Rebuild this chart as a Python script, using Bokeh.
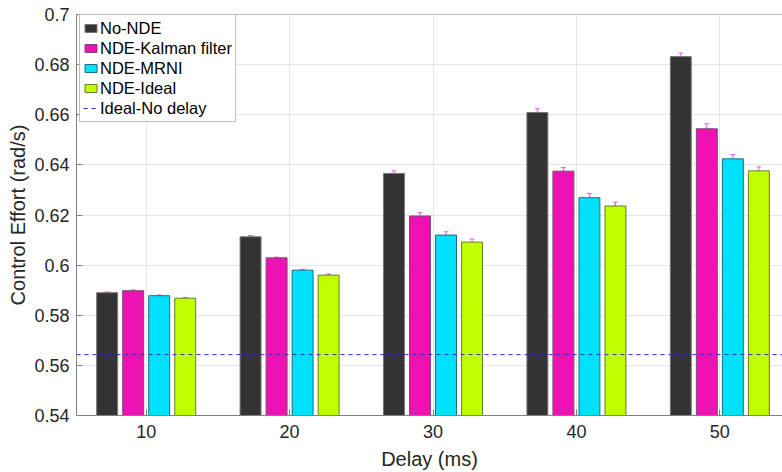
from bokeh.plotting import figure
from bokeh.models import (ColumnDataSource, FixedTicker, Whisker, TeeHead, Legend,
                          LegendItem, Span, Range1d)
from bokeh.embed import file_html
from bokeh.resources import INLINE

# ---- data ----
delays = [10, 20, 30, 40, 50]
series_names = ["No-NDE", "NDE-Kalman filter", "NDE-MRNI", "NDE-Ideal"]
no_nde = [0.5890, 0.6113, 0.6366, 0.6609, 0.6832]
nde_kalman = [0.5898, 0.6029, 0.6196, 0.6375, 0.6544]
nde_mrni = [0.5878, 0.5980, 0.6120, 0.6269, 0.6424]
nde_ideal = [0.5868, 0.5960, 0.6092, 0.6236, 0.6376]
err_no_nde = [0.0003, 0.0005, 0.0010, 0.0015, 0.0014]
err_kalman = [0.0003, 0.0003, 0.0013, 0.0014, 0.0020]
err_mrni = [0.0003, 0.0003, 0.0013, 0.0017, 0.0017]
err_ideal = [0.0003, 0.0005, 0.0012, 0.0015, 0.0016]
ideal_no_delay = 0.5643
y_ticks = [0.54, 0.56, 0.58, 0.60, 0.62, 0.64, 0.66, 0.68, 0.70]
y_tick_labels = ["0.54", "0.56", "0.58", "0.6", "0.62", "0.64", "0.66", "0.68", "0.7"]
x_tick_labels = ["10", "20", "30", "40", "50"]

# ---- style ----
FONT = "Liberation Sans"
TXT = "#262626"
AX = "#808080"
fills = ["#333333", "#EE12B5", "#00E1FF", "#C0FF00"]
edges = ["#777777", "#7a4a6c", "#1a6f80", "#6b7a2a"]
offsets = [-2.7225, -0.9075, 0.9075, 2.7225]
bar_w = 1.46
X0, X1 = 5.14, 54.37
Y0, Y1 = y_ticks[0], y_ticks[-1]

p = figure(width=782, height=472, output_backend="svg", toolbar_location=None,
           x_range=Range1d(X0, X1), y_range=Range1d(Y0, Y1),
           min_border_left=76, min_border_right=0, min_border_top=14, min_border_bottom=57)
p.outline_line_color = None
p.background_fill_color = "white"
p.border_fill_color = "white"

vals = [no_nde, nde_kalman, nde_mrni, nde_ideal]
errs = [err_no_nde, err_kalman, err_mrni, err_ideal]
items = []
for i, name in enumerate(series_names):
    xs = [d + offsets[i] for d in delays]
    src = ColumnDataSource(dict(x=xs, top=vals[i],
                                upper=[v + e for v, e in zip(vals[i], errs[i])],
                                lower=[v - e for v, e in zip(vals[i], errs[i])]))
    r = p.vbar(x="x", top="top", bottom=0, width=bar_w, source=src,
               fill_color=fills[i], line_color=edges[i], line_width=1)
    items.append(LegendItem(label=name, renderers=[r]))
    w = Whisker(base="x", upper="upper", lower="lower", source=src, dimension="height",
                line_color="#e040e0", line_width=1, line_alpha=0.85,
                upper_head=TeeHead(size=5, line_color="#e040e0", line_alpha=0.85),
                lower_head=TeeHead(size=5, line_color="#e040e0", line_alpha=0.85))
    p.add_layout(w)

ln = p.line(x=[X0, X1], y=[ideal_no_delay, ideal_no_delay], line_color="#2a2ad0",
            line_dash="4 4", line_width=1)
items.append(LegendItem(label="Ideal-No delay", renderers=[ln]))

# top box line
p.add_layout(Span(location=Y1, dimension="width", line_color=AX, line_width=1))

# axes
p.xaxis.ticker = FixedTicker(ticks=delays)
p.xaxis.major_label_overrides = {d: l for d, l in zip(delays, x_tick_labels)}
p.yaxis.ticker = FixedTicker(ticks=y_ticks)
p.yaxis.major_label_overrides = {t: l for t, l in zip(y_ticks, y_tick_labels)}
p.xaxis.axis_label = "Delay (ms)"
p.yaxis.axis_label = "Control Effort (rad/s)"
for ax in [p.xaxis[0], p.yaxis[0]]:
    ax.axis_line_color = AX
    ax.major_tick_line_color = AX
    ax.major_tick_in = 6
    ax.major_tick_out = 0
    ax.minor_tick_line_color = None
    ax.major_label_text_font = FONT
    ax.major_label_text_font_size = "18px"
    ax.major_label_text_color = TXT
    ax.axis_label_text_font = FONT
    ax.axis_label_text_font_size = "20px"
    ax.axis_label_text_font_style = "normal"
    ax.axis_label_text_color = TXT
p.xaxis.major_label_standoff = 9
p.xaxis.axis_label_standoff = 7
p.yaxis.major_label_standoff = 7
p.yaxis.axis_label_standoff = 2

p.xgrid.ticker = FixedTicker(ticks=delays)
p.grid.grid_line_color = "#e6e6e6"
p.grid.grid_line_width = 1

legend = Legend(items=items, location=(3, 293), margin=0, padding=3, spacing=0,
                label_text_font=FONT, label_text_font_size="16.5px", label_text_color="#000000",
                label_height=20, glyph_height=10, glyph_width=15, label_standoff=2,
                border_line_color="#808080", border_line_width=1,
                background_fill_color="white", background_fill_alpha=1)
p.add_layout(legend)

open("out.html", "w").write(file_html(p, INLINE))
